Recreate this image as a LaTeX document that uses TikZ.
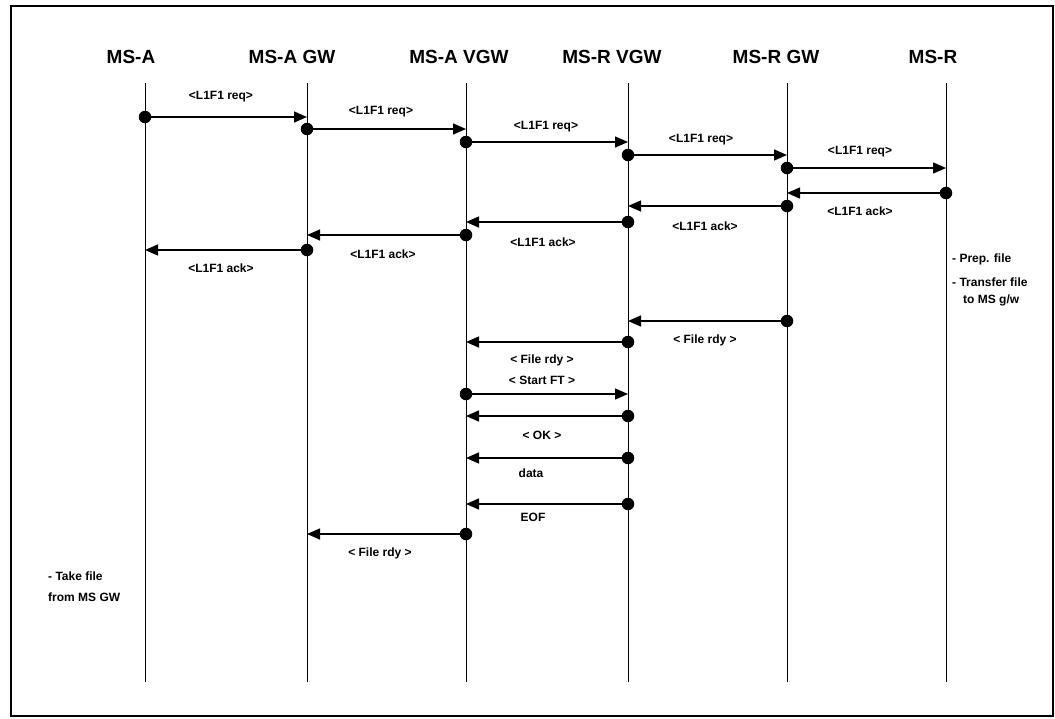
\documentclass[tikz,border=0pt]{standalone}
\usepackage{fontspec}
\setmainfont{Liberation Sans}
\usetikzlibrary{arrows.meta}
\newcommand\seqmsg[4]{%
  \path (#2) ++(0,#3) coordinate (#4e);
  \path (#1) ++(0,#3) node[dotc] (#4s) {};
  \draw[msg] (#4s.center) -- (#4e);}
\begin{document}
\begin{tikzpicture}[x=1pt,y=-1pt,
  lifeline/.style={line width=0.8pt},
  msg/.style={line width=1.4pt,-{Triangle[length=13pt,width=11pt]}},
  dotc/.style={circle,fill,inner sep=0pt,minimum size=12.5pt},
  head/.style={font=\fontsize{19}{21}\selectfont\bfseries,inner sep=0pt},
  lbl/.style={font=\fontsize{12}{13}\selectfont\bfseries,inner sep=0pt},
  note/.style={font=\fontsize{12}{13}\selectfont\bfseries,inner sep=0pt,anchor=west}]
\useasboundingbox (0,0) rectangle (1055,718);
\draw[line width=1.5pt] (11,6) rectangle (1053,716);
% lifelines
\coordinate (A) at (145,0);
\coordinate (AG) at (307,0);
\coordinate (AV) at (466,0);
\coordinate (RV) at (628,0);
\coordinate (RG) at (787,0);
\coordinate (R) at (946,0);
\coordinate (top) at (0,83);
\coordinate (bot) at (0,682);
\foreach \l in {A,AG,AV,RV,RG,R}{
  \draw[lifeline] (\l |- top) -- (\l |- bot);}
% headers
\node[head] (hA) at (131,57) {MS-A};
\node[head] (hAG) at (292,57) {MS-A GW};
\node[head] (hAV) at (459,57) {MS-A VGW};
\node[head] (hRV) at (612,57) {MS-R VGW};
\node[head] (hRG) at (776,57) {MS-R GW};
\node[head] (hR) at (933,57) {MS-R};
% requests
\seqmsg{A}{AG}{117}{m1}
\seqmsg{AG}{AV}{129}{m2}
\seqmsg{AV}{RV}{142}{m3}
\seqmsg{RV}{RG}{155}{m4}
\seqmsg{RG}{R}{168}{m5}
\node[lbl] (l1) at (221,97) {<L1F1 req>};
\node[lbl] (l2) at (381,112) {<L1F1 req>};
\node[lbl] (l3) at (546,127) {<L1F1 req>};
\node[lbl] (l4) at (701,140) {<L1F1 req>};
\node[lbl] (l5) at (860,152) {<L1F1 req>};
% acks
\seqmsg{R}{RG}{193}{m6}
\seqmsg{RG}{RV}{206}{m7}
\seqmsg{RV}{AV}{222}{m8}
\seqmsg{AV}{AG}{235}{m9}
\seqmsg{AG}{A}{250}{m10}
\node[lbl] (l6) at (860,211) {<L1F1 ack>};
\node[lbl] (l7) at (705,226) {<L1F1 ack>};
\node[lbl] (l8) at (543,242) {<L1F1 ack>};
\node[lbl] (l9) at (383,254) {<L1F1 ack>};
\node[lbl] (l10) at (221,268) {<L1F1 ack>};
% notes
\node[note] (n1) at (952,259) {- Prep. file};
\node[note] (n2) at (952,282) {- Transfer file};
\node[note] (n3) at (963,300) {to MS g/w};
% file transfer
\seqmsg{RG}{RV}{321}{m11}
\node[lbl] (l11) at (705,340) {< File rdy >};
\seqmsg{RV}{AV}{342}{m12}
\node[lbl] (l12) at (542,360) {< File rdy >};
\node[lbl] (l13) at (542,380) {< Start FT >};
\seqmsg{AV}{RV}{394}{m13}
\seqmsg{RV}{AV}{416}{m14}
\node[lbl] (l14) at (542,435) {< OK >};
\seqmsg{RV}{AV}{458}{m15}
\node[lbl] (l15) at (531,473) {data};
\seqmsg{RV}{AV}{504}{m16}
\node[lbl] (l16) at (533,517) {EOF};
\seqmsg{AV}{AG}{534}{m17}
\node[lbl] (l17) at (380,553) {< File rdy >};
\node[note] (n4) at (48,576) {- Take file};
\node[note] (n5) at (48,597) {from MS GW};
\end{tikzpicture}
\end{document}
